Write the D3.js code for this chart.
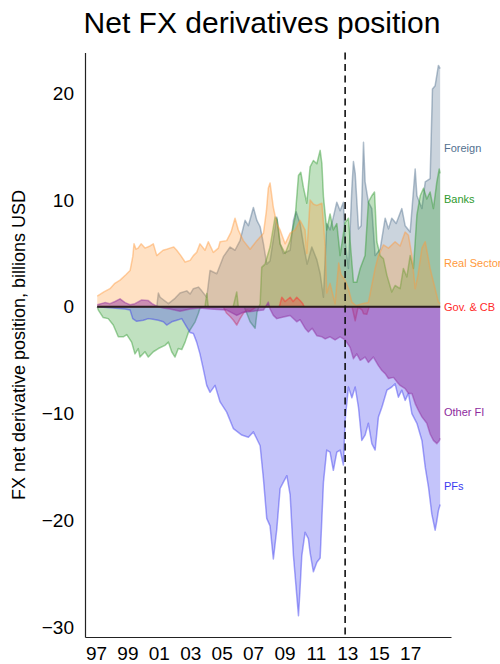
<!DOCTYPE html>
<html><head><meta charset="utf-8">
<script src="https://cdn.jsdelivr.net/npm/d3@7"></script>
<style>body{margin:0;background:#fff}svg{display:block;font-family:"Liberation Sans",Arial,sans-serif}</style>
</head><body><svg id="c" width="500" height="664"></svg>
<script>
const seriesNames = ["Foreign","Banks","Real Sector","Gov. & CB","Other FI","PFs"];
const seriesColors = ["#52708f","#2e9a2e","#ff9a3c","#ff2a2a","#8e2a9e","#3a3af0"];
const labelValues = [14.9, 10.1, 4.1, 0, -9.9, -16.8];
const xTicks = [1997,1999,2001,2003,2005,2007,2009,2011,2013,2015,2017];
const yTicks = [20,10,0,-10,-20,-30];
const eventYear = 2012.86;

const foreign = [[1997.08,0],[2000.87,0],[2000.97,1.3],[2001.08,0.9],[2001.61,0.3],[2002.03,0.8],[2002.35,1.3],[2002.78,1.5],[2002.99,1.2],[2003.2,1.7],[2003.52,1.85],[2003.73,1.5],[2004.05,0.9],[2004.26,3.4],[2004.69,3.1],[2005.11,4.7],[2005.54,5.6],[2005.85,5.3],[2006.17,6.2],[2006.49,8.1],[2006.7,7.6],[2007.02,9.3],[2007.24,8.1],[2007.45,7.5],[2007.66,5.9],[2007.87,4.0],[2008.08,4.3],[2008.51,8.4],[2008.72,5.9],[2008.93,5.0],[2009.36,5.3],[2009.57,8.1],[2009.74,8.9],[2009.99,7.8],[2010.2,5.9],[2010.44,4.0],[2010.74,5.6],[2011.06,4.4],[2011.27,3.1],[2011.48,0.9],[2011.69,7.8],[2011.9,7.2],[2012.11,8.4],[2012.33,9.8],[2012.54,9.0],[2012.75,9.8],[2012.86,6.1],[2013.07,3.6],[2013.29,11.1],[2013.39,13.6],[2013.5,12.5],[2013.71,7.3],[2013.88,7.6],[2014.03,15.4],[2014.13,11.7],[2014.34,9.8],[2014.56,9.2],[2014.77,4.8],[2015.09,5.4],[2015.41,8.3],[2015.62,7.3],[2015.83,8.3],[2016.11,7.8],[2016.47,9.2],[2016.68,7.6],[2017.0,7.0],[2017.32,12.9],[2017.43,10.4],[2017.75,9.2],[2017.96,11.7],[2018.27,12.0],[2018.42,20.4],[2018.59,20.7],[2018.7,21.7],[2018.8,22.6],[2018.91,22.3]];

const banks = [[1997.08,0],[1997.15,-0.3],[1997.46,-1.0],[1997.78,-1.1],[1998.1,-1.7],[1998.42,-2.8],[1998.74,-2.8],[1998.96,-2.6],[1999.27,-3.3],[1999.48,-4.4],[1999.69,-3.9],[1999.8,-4.7],[2000.12,-4.2],[2000.33,-4.7],[2000.65,-4.2],[2000.97,-3.9],[2001.39,-3.6],[2001.61,-3.3],[2001.82,-4.2],[2002.03,-4.7],[2002.24,-3.9],[2002.46,-4.0],[2002.67,-3.3],[2002.88,-2.4],[2003.1,-1.9],[2003.31,-1.4],[2003.52,-0.6],[2003.62,-0.1],[2003.82,0],[2003.94,0],[2004.05,1.25],[2004.15,0],[2005.73,0],[2005.96,1.4],[2006.06,0],[2006.43,0],[2006.6,-0.6],[2006.81,-1.4],[2007.13,-2.0],[2007.25,-0.5],[2007.45,0.3],[2007.55,3.7],[2007.76,4.0],[2008.08,5.6],[2008.4,8.4],[2008.53,8.2],[2008.72,5.9],[2009.04,5.0],[2009.36,6.2],[2009.68,8.4],[2009.89,12.3],[2010.04,12.6],[2010.2,11.2],[2010.42,9.7],[2010.63,13.1],[2010.84,13.7],[2011.06,13.4],[2011.27,14.65],[2011.38,13.4],[2011.48,10.3],[2011.69,7.2],[2011.9,8.7],[2012.11,7.2],[2012.33,7.8],[2012.54,4.8],[2012.86,7.9],[2013.07,8.3],[2013.18,6.1],[2013.39,2.3],[2013.6,2.3],[2013.82,3.6],[2014.13,4.8],[2014.34,9.8],[2014.56,10.4],[2014.73,10.75],[2014.88,6.1],[2015.09,4.8],[2015.3,4.5],[2015.52,2.95],[2015.83,1.4],[2016.04,2.0],[2016.36,1.7],[2016.57,3.6],[2016.79,2.8],[2017.0,4.8],[2017.21,3.6],[2017.43,8.6],[2017.64,10.4],[2017.85,11.1],[2018.06,10.1],[2018.27,10.75],[2018.48,9.2],[2018.7,11.7],[2018.85,12.9],[2018.91,12.5]];

const realSector = [[1997.08,1.0],[1997.5,1.4],[1997.89,1.7],[1998.2,2.2],[1998.53,2.5],[1998.9,3.0],[1999.17,3.4],[1999.34,4.7],[1999.42,5.9],[1999.55,5.4],[1999.68,5.5],[1999.87,5.9],[2000.12,5.5],[2000.44,5.7],[2000.65,5.9],[2000.87,4.8],[2001.27,5.3],[2001.5,5.4],[2001.71,5.5],[2001.95,5.6],[2002.14,5.3],[2002.4,4.8],[2002.67,4.2],[2002.99,4.35],[2003.2,4.8],[2003.41,5.1],[2003.62,5.9],[2003.94,5.3],[2004.15,6.1],[2004.47,5.1],[2004.79,5.5],[2004.9,6.1],[2005.32,6.2],[2005.6,7.0],[2005.85,8.3],[2006.06,7.2],[2006.38,6.2],[2006.81,5.4],[2007.24,6.2],[2007.66,6.9],[2007.85,9.0],[2007.97,11.1],[2008.08,11.6],[2008.29,9.3],[2008.51,7.8],[2008.72,7.2],[2009.04,5.9],[2009.36,6.9],[2009.68,7.2],[2009.99,8.1],[2010.31,7.2],[2010.42,5.0],[2010.63,10.0],[2010.85,9.6],[2011.06,9.5],[2011.38,9.7],[2011.5,7.5],[2011.59,5.6],[2011.69,1.3],[2011.9,2.2],[2012.22,0.3],[2012.45,4.1],[2012.6,3.0],[2012.86,2.5],[2013.07,1.7],[2013.29,0.45],[2013.56,0.1],[2013.94,0.3],[2014.34,0.4],[2014.77,3.6],[2014.98,4.8],[2015.3,5.8],[2015.62,5.5],[2016.04,6.1],[2016.36,5.7],[2016.68,7.0],[2016.89,6.7],[2017.11,4.8],[2017.32,1.7],[2017.5,3.0],[2017.75,5.5],[2017.96,6.1],[2018.27,3.6],[2018.59,1.7],[2018.8,0.45],[2018.91,0.3]];

const govCB = [[1997.08,0],[2005.1,0],[2005.32,-0.6],[2005.54,-0.9],[2005.75,-1.25],[2005.96,-1.7],[2006.17,-1.1],[2006.38,-0.6],[2006.6,-0.3],[2006.81,-0.4],[2007.2,0],[2008.66,0],[2008.72,0.3],[2008.83,0.9],[2009.04,0.5],[2009.36,0.9],[2009.55,0.5],[2009.78,0.9],[2009.99,0.6],[2010.17,0.3],[2010.25,0],[2013.3,0],[2013.5,-1.3],[2013.69,0],[2013.94,-0.3],[2014.03,-0.65],[2014.24,-0.7],[2014.39,0],[2018.91,0]];

const otherFI = [[1997.08,0.2],[1997.57,0.4],[1997.89,0.3],[1998.21,0.5],[1998.53,0.75],[1998.85,0.4],[1999.17,0.2],[1999.48,0.3],[1999.91,0.65],[2000.31,0.6],[2000.57,0.3],[2000.89,0.05],[2001.27,-0.1],[2001.71,-0.2],[2002.35,-0.4],[2002.99,-0.2],[2003.62,-0.1],[2004.26,-0.2],[2005.32,-0.3],[2005.96,-0.8],[2006.38,-0.5],[2007.02,-0.4],[2007.66,-0.3],[2007.97,0.45],[2008.08,-0.2],[2008.29,-0.8],[2008.51,-1.1],[2008.93,-0.95],[2009.36,-0.8],[2009.78,-1.4],[2009.99,-1.2],[2010.31,-2.0],[2010.52,-2.35],[2010.76,-2.0],[2011.06,-2.7],[2011.38,-2.8],[2011.59,-3.0],[2011.9,-2.8],[2012.22,-3.1],[2012.54,-2.8],[2012.86,-3.1],[2013.18,-3.8],[2013.39,-4.85],[2013.6,-4.4],[2013.82,-5.0],[2014.13,-4.7],[2014.34,-5.2],[2014.66,-4.7],[2014.98,-5.5],[2015.2,-5.95],[2015.41,-6.25],[2015.62,-6.7],[2015.94,-6.6],[2016.15,-7.0],[2016.36,-7.35],[2016.68,-7.65],[2016.89,-8.1],[2017.11,-8.1],[2017.32,-9.05],[2017.53,-9.7],[2017.75,-10.3],[2018.06,-10.9],[2018.27,-11.9],[2018.48,-12.5],[2018.7,-12.8],[2018.86,-12.5],[2018.91,-12.3]];

const pfs = [[1997.08,0],[1998.85,-0.2],[1999.17,-0.3],[1999.34,-1.1],[1999.59,-1.35],[2000.01,-1.25],[2000.33,-1.1],[2000.63,-1.15],[2000.97,-1.25],[2001.29,-1.4],[2001.5,-1.7],[2001.82,-1.4],[2002.14,-1.25],[2002.46,-1.1],[2002.78,-1.9],[2002.99,-2.4],[2003.2,-2.5],[2003.41,-3.3],[2003.62,-4.4],[2003.83,-5.8],[2004.05,-7.35],[2004.26,-8.0],[2004.58,-7.35],[2004.9,-8.9],[2005.32,-9.85],[2005.75,-11.4],[2006.28,-12.0],[2006.7,-12.2],[2007.02,-11.7],[2007.45,-13.0],[2007.66,-16.1],[2007.87,-19.8],[2008.08,-20.5],[2008.29,-23.6],[2008.51,-20.8],[2008.72,-17.0],[2008.93,-16.4],[2009.15,-15.8],[2009.36,-17.6],[2009.57,-23.3],[2009.89,-28.9],[2009.99,-26.4],[2010.1,-23.3],[2010.31,-21.1],[2010.52,-21.7],[2010.63,-23.0],[2010.84,-24.8],[2011.06,-23.9],[2011.27,-23.5],[2011.48,-16.4],[2011.69,-13.4],[2011.9,-13.6],[2012.11,-15.3],[2012.33,-13.6],[2012.54,-13.4],[2012.75,-14.8],[2012.86,-10.6],[2013.07,-7.5],[2013.29,-8.5],[2013.5,-7.5],[2013.71,-9.4],[2013.92,-12.5],[2014.13,-12.0],[2014.34,-10.9],[2014.56,-12.8],[2014.77,-13.4],[2014.98,-10.3],[2015.2,-9.4],[2015.52,-7.8],[2015.83,-7.5],[2016.04,-7.2],[2016.25,-8.45],[2016.47,-7.8],[2016.68,-8.75],[2016.89,-8.1],[2017.11,-10.0],[2017.43,-10.9],[2017.75,-12.5],[2017.96,-15.0],[2018.17,-16.9],[2018.38,-19.4],[2018.59,-20.9],[2018.7,-20.0],[2018.8,-19.05],[2018.91,-18.5]];

const seriesData = [foreign, banks, realSector, govCB, otherFI, pfs];
const drawOrder = [0, 1, 2, 3, 5, 4];

const svg = d3.select("#c");
const x = d3.scaleLinear().domain([1996.3, 2019.6]).range([85, 451]);
const y = d3.scaleLinear().domain([-30.9, 23.8]).range([637, 52.6]);

const area = d3.area().x(d => x(d[0])).y0(y(0)).y1(d => y(d[1]));
const line = d3.line().x(d => x(d[0])).y(d => y(d[1]));

drawOrder.forEach(i => {
  const g = svg.append("g");
  g.append("path").datum(seriesData[i]).attr("d", area)
    .attr("fill", seriesColors[i]).attr("fill-opacity", i === 4 ? 0.45 : 0.3).attr("stroke", "none");
  g.append("path").datum(seriesData[i]).attr("d", line)
    .attr("fill", "none").attr("stroke", seriesColors[i]).attr("stroke-opacity", 0.45)
    .attr("stroke-width", 1.5).attr("stroke-linejoin", "round");
});

// zero line
svg.append("line").attr("x1", x(1997.08)).attr("x2", x(2018.91)).attr("y1", y(0)).attr("y2", y(0))
  .attr("stroke", "#2b1f1f").attr("stroke-width", 2);

// event line
svg.append("line").attr("x1", x(eventYear)).attr("x2", x(eventYear)).attr("y1", y(23.8)).attr("y2", y(-30.9))
  .attr("stroke", "#111").attr("stroke-width", 1.6).attr("stroke-dasharray", "7,4.5");

// axes
const xAxis = d3.axisBottom(x).tickValues(xTicks).tickFormat(d => String(d).slice(2)).tickSize(0).tickPadding(10);
const yAxis = d3.axisLeft(y).tickValues(yTicks).tickFormat(d3.format("d")).tickSize(0).tickPadding(11);
const gx = svg.append("g").attr("transform", "translate(0,637)").call(xAxis);
const gy = svg.append("g").attr("transform", "translate(85,0)").call(yAxis);
[gx, gy].forEach(g => {
  g.select(".domain").attr("stroke", "#222").attr("stroke-width", 1.2);
  g.selectAll("text").attr("font-size", 19).attr("fill", "#000").attr("font-family", "Liberation Sans, Arial, sans-serif");
});

// labels
svg.append("g").selectAll("text").data(seriesNames).join("text")
  .attr("x", 444).attr("y", (d, i) => y(labelValues[i])).attr("dy", "0.35em")
  .attr("font-size", 11).attr("fill", (d, i) => seriesColors[i]).text(d => d);

svg.append("text").attr("x", 262).attr("y", 33).attr("text-anchor", "middle")
  .attr("font-size", 30).attr("fill", "#000").text("Net FX derivatives position");

svg.append("text").attr("transform", "translate(25,345) rotate(-90)").attr("text-anchor", "middle")
  .attr("font-size", 18).attr("fill", "#000").text("FX net derivative position, billions USD");
</script></body></html>
